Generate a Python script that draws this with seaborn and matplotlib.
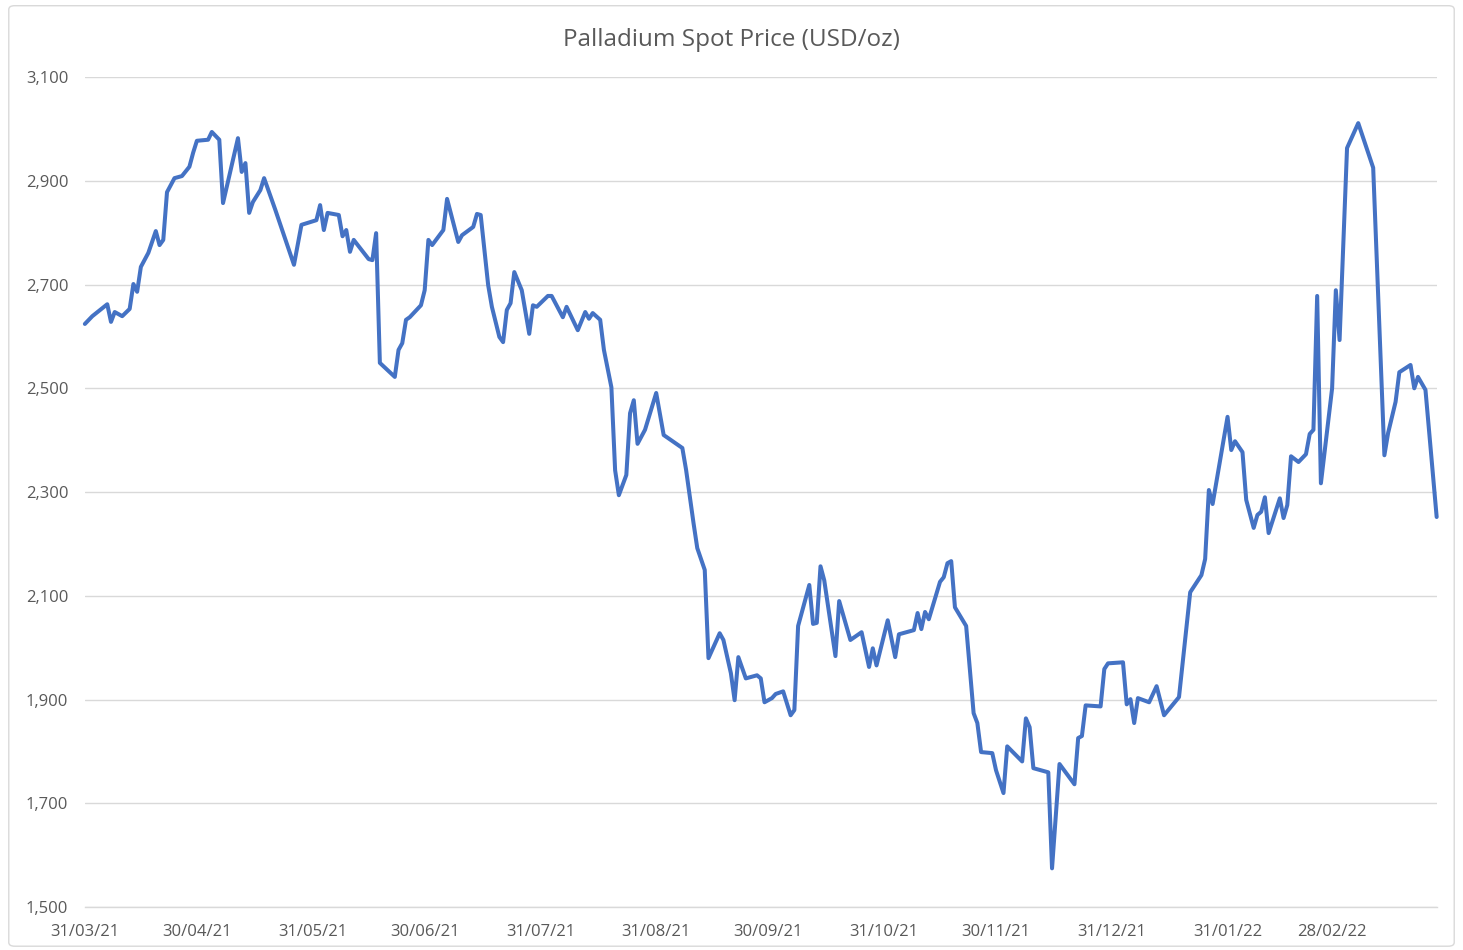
import pandas as pd
import matplotlib.pyplot as plt
import matplotlib.dates as mdates
import matplotlib.ticker as mticker
from matplotlib.patches import FancyBboxPatch
import seaborn as sns

# --- datos ---
fechas = [
    "2021-03-31", "2021-04-02", "2021-04-06", "2021-04-07", "2021-04-08", "2021-04-10",
    "2021-04-12", "2021-04-13", "2021-04-14", "2021-04-15", "2021-04-17", "2021-04-19",
    "2021-04-20", "2021-04-21", "2021-04-22", "2021-04-24", "2021-04-26", "2021-04-28",
    "2021-04-29", "2021-04-30", "2021-05-03", "2021-05-04", "2021-05-06", "2021-05-07",
    "2021-05-11", "2021-05-12", "2021-05-13", "2021-05-14", "2021-05-15", "2021-05-17",
    "2021-05-18", "2021-05-21", "2021-05-24", "2021-05-26", "2021-05-28", "2021-06-01",
    "2021-06-02", "2021-06-03", "2021-06-04", "2021-06-07", "2021-06-08", "2021-06-09",
    "2021-06-10", "2021-06-11", "2021-06-15", "2021-06-16", "2021-06-17", "2021-06-18",
    "2021-06-22", "2021-06-23", "2021-06-24", "2021-06-25", "2021-06-26", "2021-06-29",
    "2021-06-30", "2021-07-01", "2021-07-02", "2021-07-05", "2021-07-06", "2021-07-09",
    "2021-07-10", "2021-07-13", "2021-07-14", "2021-07-15", "2021-07-17", "2021-07-18",
    "2021-07-20", "2021-07-21", "2021-07-22", "2021-07-23", "2021-07-24", "2021-07-26",
    "2021-07-28", "2021-07-29", "2021-07-30", "2021-08-02", "2021-08-03", "2021-08-06",
    "2021-08-07", "2021-08-10", "2021-08-12", "2021-08-13", "2021-08-14", "2021-08-16",
    "2021-08-17", "2021-08-19", "2021-08-20", "2021-08-21", "2021-08-23", "2021-08-24",
    "2021-08-25", "2021-08-26", "2021-08-28", "2021-08-31", "2021-09-02", "2021-09-07",
    "2021-09-08", "2021-09-10", "2021-09-11", "2021-09-13", "2021-09-14", "2021-09-17",
    "2021-09-18", "2021-09-20", "2021-09-21", "2021-09-22", "2021-09-24", "2021-09-27",
    "2021-09-28", "2021-09-29", "2021-10-01", "2021-10-02", "2021-10-04", "2021-10-06",
    "2021-10-07", "2021-10-08", "2021-10-11", "2021-10-12", "2021-10-13", "2021-10-14",
    "2021-10-15", "2021-10-18", "2021-10-19", "2021-10-22", "2021-10-25", "2021-10-27",
    "2021-10-28", "2021-10-29", "2021-11-01", "2021-11-03", "2021-11-04", "2021-11-08",
    "2021-11-09", "2021-11-10", "2021-11-11", "2021-11-12", "2021-11-15", "2021-11-16",
    "2021-11-17", "2021-11-18", "2021-11-19", "2021-11-22", "2021-11-24", "2021-11-25",
    "2021-11-26", "2021-11-29", "2021-11-30", "2021-12-02", "2021-12-03", "2021-12-07",
    "2021-12-08", "2021-12-09", "2021-12-10", "2021-12-14", "2021-12-15", "2021-12-17",
    "2021-12-21", "2021-12-22", "2021-12-23", "2021-12-24", "2021-12-28", "2021-12-29",
    "2021-12-30", "2022-01-03", "2022-01-04", "2022-01-05", "2022-01-06", "2022-01-07",
    "2022-01-10", "2022-01-12", "2022-01-14", "2022-01-18", "2022-01-21", "2022-01-24",
    "2022-01-25", "2022-01-26", "2022-01-27", "2022-01-31", "2022-02-01", "2022-02-02",
    "2022-02-04", "2022-02-05", "2022-02-07", "2022-02-08", "2022-02-09", "2022-02-10",
    "2022-02-11", "2022-02-14", "2022-02-15", "2022-02-16", "2022-02-17", "2022-02-19",
    "2022-02-21", "2022-02-22", "2022-02-23", "2022-02-24", "2022-02-25", "2022-02-28",
    "2022-03-01", "2022-03-02", "2022-03-04", "2022-03-07", "2022-03-11", "2022-03-14",
    "2022-03-15", "2022-03-17", "2022-03-18", "2022-03-21", "2022-03-22", "2022-03-23",
    "2022-03-25", "2022-03-28",
]

precios = [
    2624, 2639, 2662, 2628, 2647, 2639,
    2653, 2701, 2686, 2734, 2761, 2803,
    2776, 2786, 2878, 2905, 2909, 2927,
    2954, 2977, 2979, 2994, 2979, 2857,
    2982, 2917, 2934, 2838, 2859, 2882,
    2905, 2844, 2780, 2738, 2815, 2824,
    2853, 2805, 2838, 2834, 2793, 2805,
    2763, 2786, 2749, 2747, 2799, 2549,
    2522, 2574, 2587, 2632, 2637, 2660,
    2689, 2786, 2776, 2805, 2865, 2782,
    2795, 2811, 2836, 2834, 2699, 2657,
    2599, 2589, 2651, 2664, 2724, 2689,
    2605, 2660, 2657, 2678, 2678, 2637,
    2657, 2612, 2647, 2634, 2645, 2632,
    2574, 2502, 2342, 2294, 2333, 2452,
    2477, 2393, 2420, 2491, 2410, 2385,
    2343, 2240, 2192, 2150, 1980, 2028,
    2015, 1951, 1899, 1982, 1941, 1947,
    1941, 1895, 1903, 1911, 1916, 1870,
    1880, 2042, 2121, 2046, 2048, 2157,
    2130, 1984, 2090, 2015, 2030, 1963,
    1999, 1966, 2053, 1982, 2026, 2034,
    2067, 2036, 2069, 2055, 2127, 2136,
    2163, 2167, 2078, 2042, 1874, 1855,
    1799, 1797, 1764, 1720, 1810, 1781,
    1864, 1847, 1768, 1760, 1575, 1776,
    1737, 1826, 1830, 1889, 1887, 1959,
    1970, 1972, 1891, 1901, 1855, 1903,
    1895, 1926, 1870, 1905, 2107, 2140,
    2171, 2304, 2277, 2445, 2381, 2398,
    2377, 2285, 2231, 2256, 2262, 2290,
    2221, 2288, 2250, 2275, 2369, 2358,
    2373, 2412, 2420, 2678, 2317, 2500,
    2689, 2593, 2963, 3011, 2925, 2371,
    2414, 2474, 2531, 2545, 2500, 2522,
    2497, 2252,
]

marcas_x = ["2021-03-31", "2021-04-30", "2021-05-31", "2021-06-30", "2021-07-31",
            "2021-08-31", "2021-09-30", "2021-10-31", "2021-11-30", "2021-12-31",
            "2022-01-31", "2022-02-28"]
marcas_y = [1500, 1700, 1900, 2100, 2300, 2500, 2700, 2900, 3100]

df = pd.DataFrame({"Fecha": pd.to_datetime(fechas), "Precio": precios})

sns.set_style("white")
plt.rcParams['font.family'] = ['Open Sans', 'DejaVu Sans']

gris_texto = "#595959"
gris_linea = "#d9d9d9"

fig = plt.figure(figsize=(14.63, 9.5), dpi=100)
ax = fig.add_axes([0.058, 0.045, 0.924, 0.874])

sns.lineplot(data=df, x="Fecha", y="Precio", color="#4472C4", linewidth=2.9, ax=ax)
for linea in ax.lines:
    linea.set_clip_on(False)
    linea.set_solid_joinstyle("round")
    linea.set_solid_capstyle("round")

ax.set_xlim(pd.Timestamp("2021-03-31"), pd.Timestamp("2022-03-28"))
ax.set_ylim(1500, 3100)
ax.set_xticks(pd.to_datetime(marcas_x))
ax.xaxis.set_major_formatter(mdates.DateFormatter("%d/%m/%y"))
ax.set_yticks(marcas_y)
ax.yaxis.set_major_formatter(mticker.StrMethodFormatter("{x:,.0f}"))

ax.grid(axis="y", color=gris_linea, linewidth=1)
ax.set_axisbelow(True)
for lado in ["top", "right", "left"]:
    ax.spines[lado].set_visible(False)
ax.spines["bottom"].set_color(gris_linea)
ax.spines["bottom"].set_linewidth(1)

ax.tick_params(axis="both", colors=gris_texto, labelsize=12, length=0)
ax.tick_params(axis="x", pad=12)
ax.tick_params(axis="y", pad=12)
ax.set_xlabel("")
ax.set_ylabel("")

fig.text(0.5, 0.958, "Palladium Spot Price (USD/oz)", ha="center", va="center",
         fontsize=17.5, color=gris_texto)

# borde del area del grafico
borde = FancyBboxPatch((0.006, 0.004), 0.988, 0.99, boxstyle="round,pad=0,rounding_size=0.004",
                       transform=fig.transFigure, fill=False, edgecolor=gris_linea, linewidth=1)
fig.patches.append(borde)

fig.savefig("out.png", dpi=100)
